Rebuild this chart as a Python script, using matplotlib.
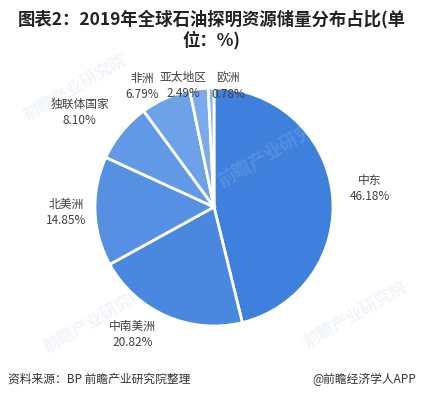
import numpy as np
import matplotlib
matplotlib.use("Agg")
import matplotlib.pyplot as plt

plt.rcParams['font.family'] = ['Noto Sans CJK SC', 'DejaVu Sans']

regions = ["中东", "中南美洲", "北美洲", "独联体国家", "非洲", "亚太地区", "欧洲"]
shares = [46.18, 20.82, 14.85, 8.10, 6.79, 2.49, 0.78]
colors = ["#3e80dc", "#4a88e0", "#5690e2", "#6199e5", "#6ea2e8", "#7cabeb", "#8ab5ee"]

# label placement: radius factor and angle nudge (deg) per slice
label_r = [1.32, 1.27, 1.24, 1.38, 1.18, 1.05, 1.02]
label_da = [0, -9, 0, 4, 7, 7, -8]

W, H = 423, 399
fig = plt.figure(figsize=(W / 100, H / 100), dpi=100)
ax = fig.add_axes([0, 0, 1, 1])
ax.axis("off")

cx, cy, R = 214, H - 207, 119

# faint watermark
for (wx, wy) in [(75, H - 88), (95, H - 320), (355, H - 315)]:
    ax.text(wx, wy, "前瞻产业研究院", fontsize=12, color="#f1f4f8", rotation=30,
            ha="center", va="center", fontweight="bold", zorder=0)

wedges, _ = ax.pie(shares, colors=colors, startangle=90, counterclock=False,
                   center=(cx, cy), radius=R,
                   wedgeprops=dict(edgecolor="white", linewidth=2))
ax.set_xlim(0, W)
ax.set_ylim(0, H)
ax.set_aspect("equal")

ax.text(cx + 60, cy + 55, "前瞻产业研究院", fontsize=13, color="white", alpha=0.12,
        rotation=30, ha="center", va="center", fontweight="bold", zorder=5)

for w, name, val, rf, da in zip(wedges, regions, shares, label_r, label_da):
    ang = np.deg2rad((w.theta1 + w.theta2) / 2 + da)
    x = cx + R * rf * np.cos(ang)
    y = cy + R * rf * np.sin(ang)
    ax.text(x, y, f"{name}\n{val:.2f}%", ha="center", va="center",
            fontsize=8.5, color="#404040", linespacing=1.3)

ax.text(W / 2, H - 30, "图表2：2019年全球石油探明资源储量分布占比(单\n位：%)",
        ha="center", va="center", fontsize=12.5, fontweight="bold",
        color="#222222", linespacing=1.15)

ax.text(8, H - 379, "资料来源：BP 前瞻产业研究院整理", ha="left", va="center",
        fontsize=8.5, color="#333333")
ax.text(416, H - 379, "@前瞻经济学人APP", ha="right", va="center",
        fontsize=8.5, color="#333333")

fig.savefig("out.png", dpi=100)
